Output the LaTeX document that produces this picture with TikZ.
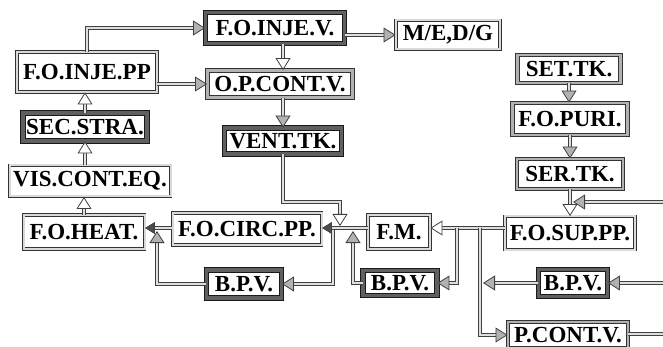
\documentclass[tikz,border=0pt]{standalone}
\usepackage{fontspec}
\setmainfont{Liberation Serif}
\usepackage{xcolor}
\usepackage{tikz}
\usetikzlibrary{arrows.meta, positioning}
\tikzset{
    unit/.style={
        rectangle, draw=black!80, line width=.9pt, double=gray!30, double distance=2pt,
        fill=white, inner sep=0pt, text centered, font=\fontsize{23}{23}\selectfont\bfseries
    },
    midunit/.style={unit, double=gray!60, double distance=2.6pt},
    heavyunit/.style={unit, draw=black!90, double=gray!75!black, double distance=3.4pt},
    pipe/.style={
        draw=black!75, line width=.8pt, double=gray!25, double distance=2.8pt,
        -{Triangle[length=12pt, width=15pt, fill=gray!60]}
    },
    openpipe/.style={pipe, -{Triangle[length=12pt, width=15pt, fill=white]}},
    darkpipe/.style={pipe, -{Triangle[length=10pt, width=12pt, fill=black!70]}},
    plainpipe/.style={pipe, -}
}
\begin{document}
\begin{tikzpicture}[x=1pt, y=-1pt]
    \useasboundingbox (0,0) rectangle (663,347);
    % fuel oil injection side
    \node (injv) [heavyunit, minimum width=139pt, minimum height=31pt] at (275,28) {F.O.INJE.V.};
    \node (medg) [unit, minimum width=104pt, minimum height=29pt] at (448,35) {M/E,D/G};
    \node (opcv) [midunit, minimum width=145pt, minimum height=27pt] at (280,84) {O.P.CONT.V.};
    \node (vent) [heavyunit, minimum width=117pt, minimum height=26pt] at (283,141) {VENT.TK.};
    \node (injpp) [unit, minimum width=140pt, minimum height=40pt] at (87,72) {F.O.INJE.PP};
    \node (secstra) [heavyunit, minimum width=124pt, minimum height=28pt] at (85,127) {SEC.STRA.};
    \node (vis) [unit, minimum width=161pt, minimum height=31pt] at (90,181) {VIS.CONT.EQ.};
    \node (heat) [unit, minimum width=121pt, minimum height=34pt] at (84,232) {F.O.HEAT.};
    \node (circ) [unit, minimum width=149pt, minimum height=32pt] at (247,229) {F.O.CIRC.PP.};
    \node (fm) [unit, minimum width=62pt, minimum height=34pt] at (399,232) {F.M.};
    \node (bpvleft) [heavyunit, minimum width=75pt, minimum height=28pt] at (244,284) {B.P.V.};
    \node (bpvmid) [heavyunit, minimum width=74pt, minimum height=25pt] at (400,283) {B.P.V.};
    % purifying and supply side
    \node (settk) [midunit, minimum width=103pt, minimum height=28pt] at (569,69) {SET.TK.};
    \node (puri) [midunit, minimum width=115pt, minimum height=32pt] at (570,119) {F.O.PURI.};
    \node (sertk) [midunit, minimum width=106pt, minimum height=30pt] at (570,174) {SER.TK.};
    \node (sup) [unit, minimum width=130pt, minimum height=33pt] at (570,233) {F.O.SUP.PP.};
    \node (bpvright) [heavyunit, minimum width=69pt, minimum height=27pt] at (573,283) {B.P.V.};
    \node (pcv) [midunit, minimum width=120pt, minimum height=26pt] at (568,335) {P.CONT.V.};
    % junction points and free ends
    \coordinate (mainy) at (0,228);
    \coordinate (ventbend) at (340,202);
    \coordinate (teeleft) at (333,228);
    \coordinate (teemid) at (457,228);
    \coordinate (teeright) at (480,228);
    \coordinate (retleft) at (157,228);
    \coordinate (retmid) at (353,228);
    \coordinate (feedin) at (663,202);
    \coordinate (bpvin) at (663,283);
    \coordinate (pcvout) at (663,334);
    \draw [pipe] (injpp.north) |- (injv.west);
    \draw [pipe] (injpp.east |- opcv.west) -- (opcv.west);
    \draw [pipe] (injv.east |- medg.west) -- (medg.west);
    \draw [openpipe] (injv.south -| vent) -- (opcv.north -| vent);
    \draw [pipe] (opcv.south -| vent) -- (vent.north);
    \draw [openpipe, shorten >=2pt] (vent.south) |- (ventbend) -- (ventbend |- mainy);
    \draw [pipe] (teeleft) |- (bpvleft.east);
    \draw [pipe, shorten >=3pt] (bpvleft.west) -| (retleft);
    \draw [darkpipe] (fm.west |- mainy) -- (circ.east |- mainy);
    \draw [darkpipe] (circ.west |- mainy) -- (heat.east |- mainy);
    \draw [openpipe] (heat.north) -- (heat.north |- vis.south);
    \draw [openpipe] (secstra.south |- vis.north) -- (secstra.south);
    \draw [openpipe] (secstra.north) -- (secstra.north |- injpp.south);
    \draw [pipe] (settk.south) -- (settk.south |- puri.north);
    \draw [pipe] (puri.south) -- (puri.south |- sertk.north);
    \draw [openpipe] (sertk.south) -- (sertk.south |- sup.north);
    \draw [pipe, shorten >=3pt] (feedin) -- (feedin -| sertk.south);
    \draw [openpipe] (sup.west |- mainy) -- (fm.east |- mainy);
    \draw [pipe] (teemid) |- (bpvmid.east);
    \draw [pipe, shorten >=3pt] (bpvmid.west) -| (retmid);
    \draw [pipe] (teeright) |- (pcv.west);
    \draw [pipe, shorten >=3pt] (bpvright.west) -- (bpvright.west -| teeright);
    \draw [pipe] (bpvin) -- (bpvright.east);
    \draw [plainpipe] (pcv.east |- pcvout) -- (pcvout);
\end{tikzpicture}
\end{document}
